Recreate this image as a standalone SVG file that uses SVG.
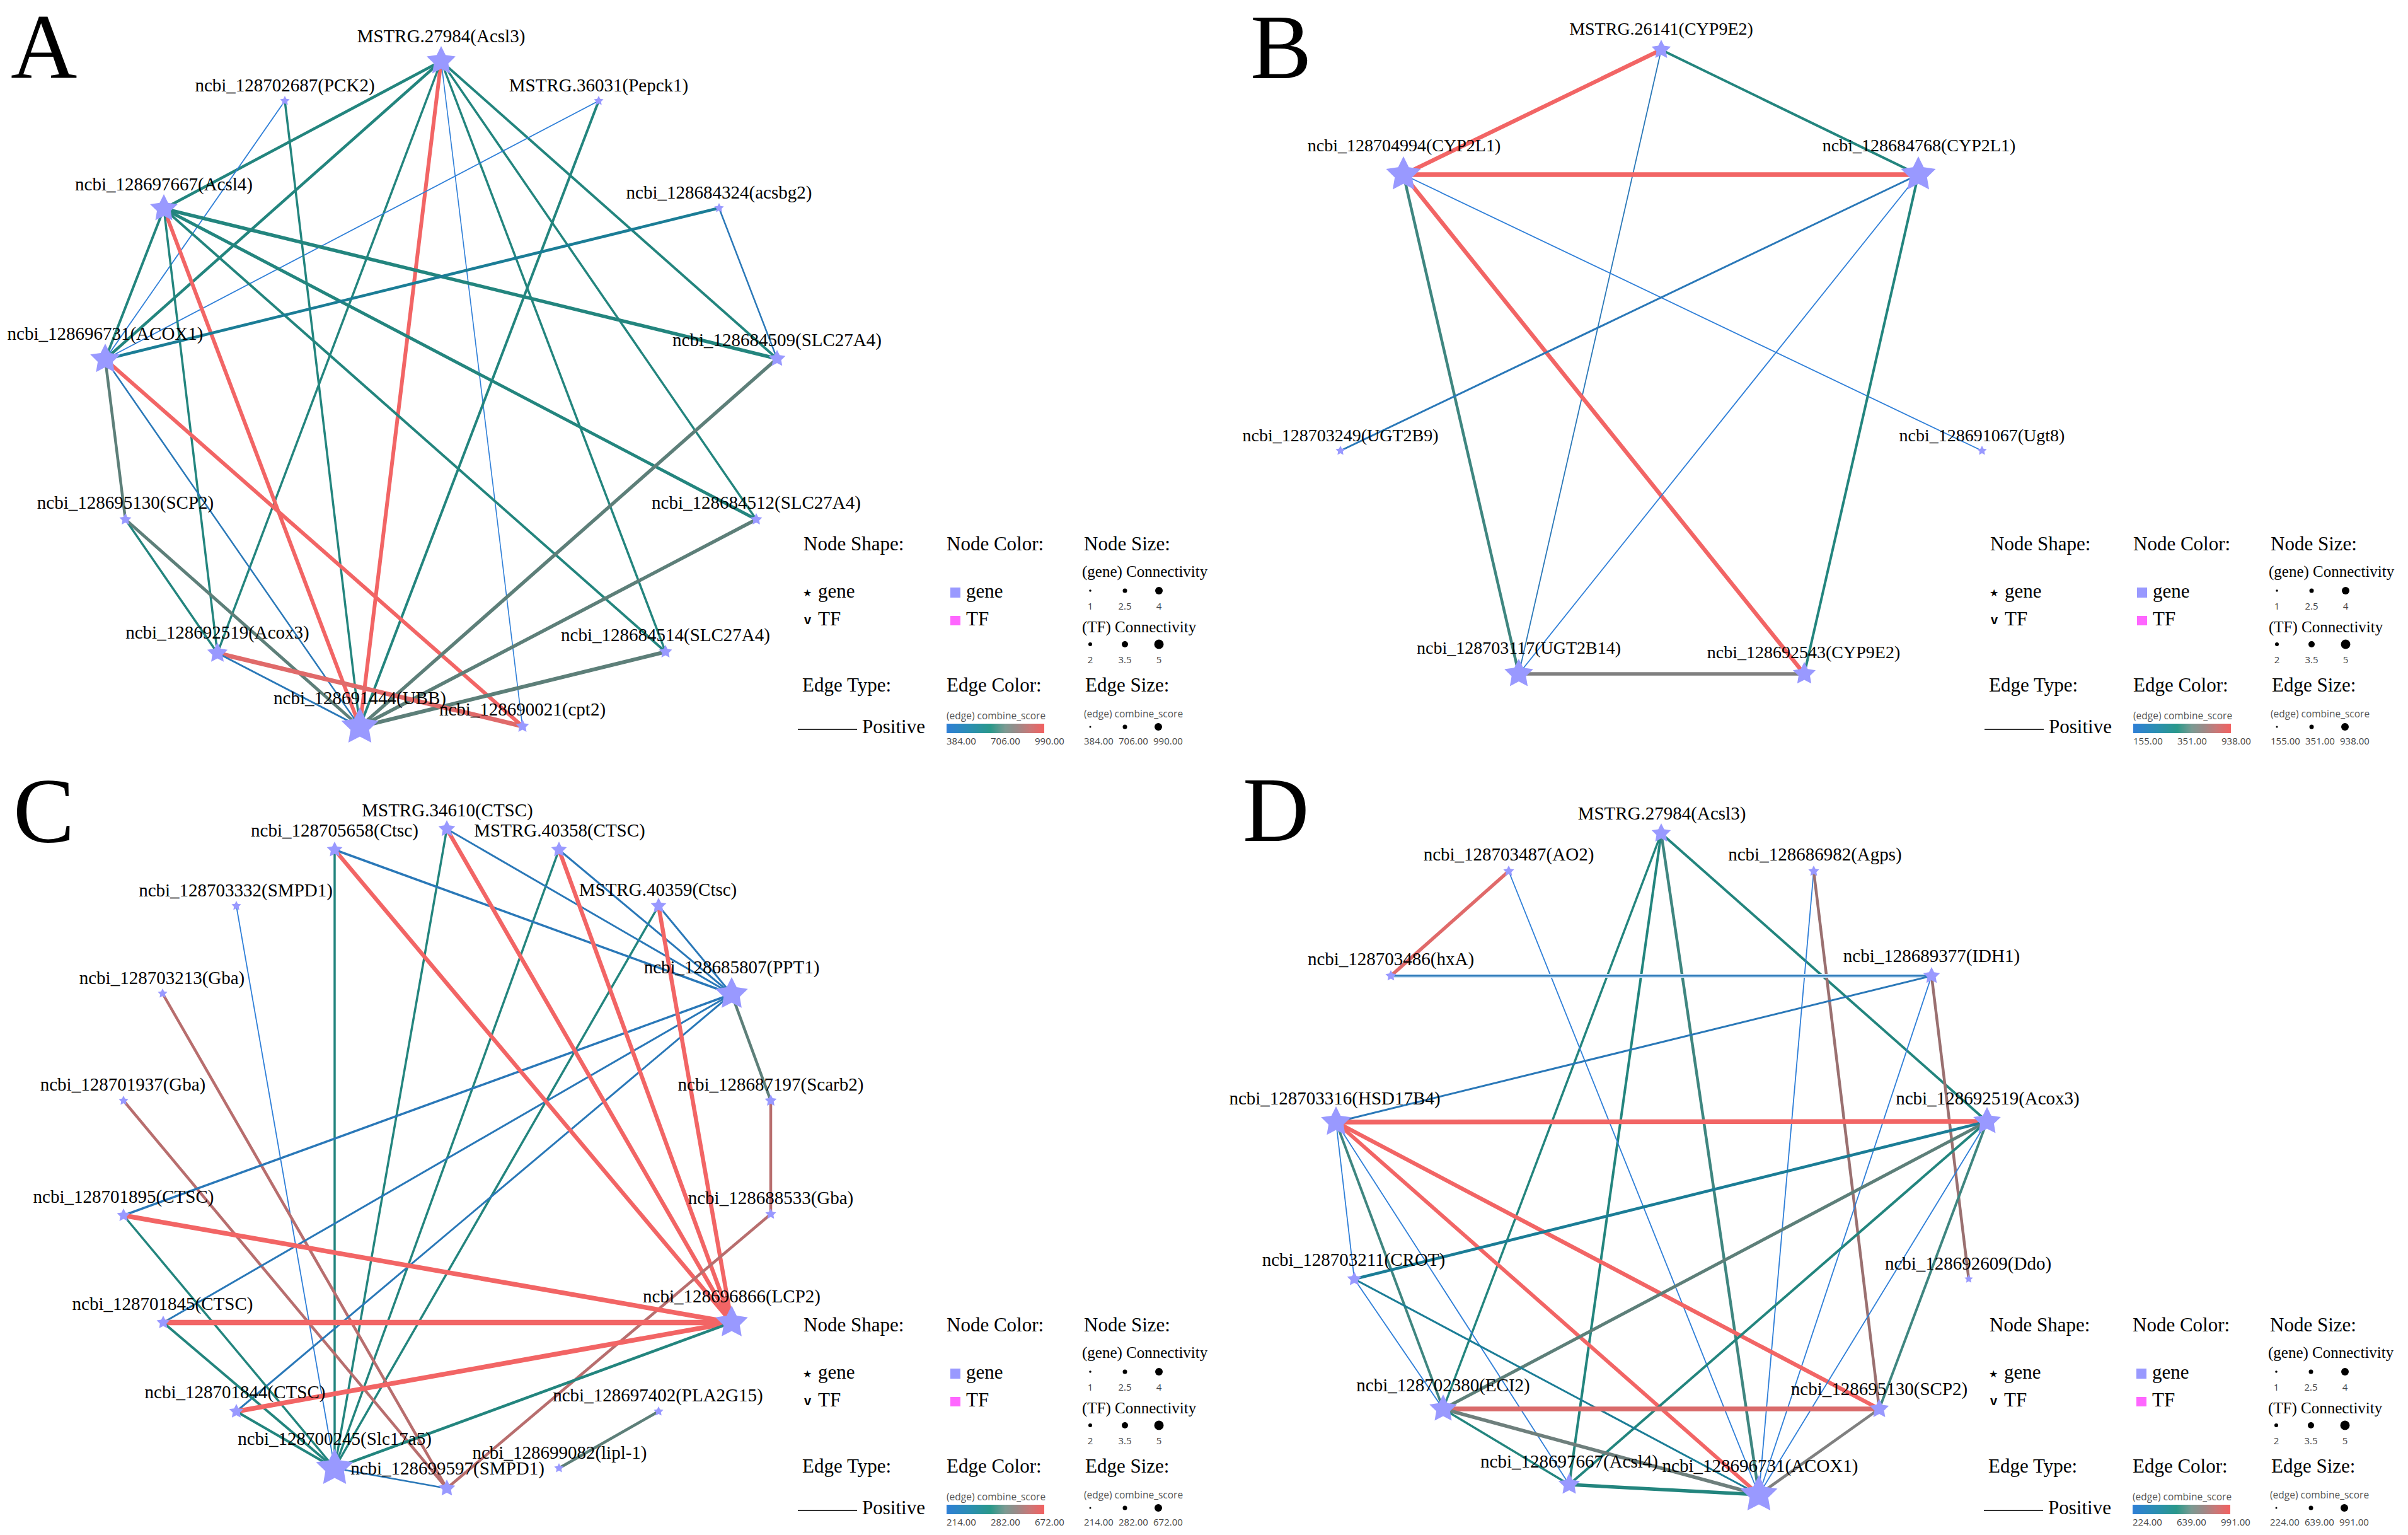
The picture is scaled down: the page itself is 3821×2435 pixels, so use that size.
<svg xmlns="http://www.w3.org/2000/svg" width="3821" height="2435" viewBox="0 0 3821 2435">
<style>
.lab{font-family:"Liberation Serif","Times New Roman",serif;font-size:29px;fill:#000;text-anchor:middle}
.labB{font-family:"Liberation Serif","Times New Roman",serif;font-size:28px;fill:#000;text-anchor:middle}
.big{font-family:"Liberation Serif","Times New Roman",serif;font-size:146px;fill:#000}
.lt{font-family:"Liberation Serif","Times New Roman",serif;font-size:31px;fill:#000}
.lm{font-family:"Liberation Serif","Times New Roman",serif;font-size:25px;fill:#000}
.ls{font-family:"DejaVu Sans",sans-serif;font-size:16px;fill:#000}
.lv{font-family:"Liberation Sans",Arial,sans-serif;font-size:20px;font-weight:bold;fill:#000}
.sn{font-family:"Open Sans","Liberation Sans",sans-serif;font-size:15px;fill:#444}
.snm{font-family:"Open Sans","Liberation Sans",sans-serif;font-size:15px;fill:#444;text-anchor:middle}
.sc{font-family:"Open Sans","Liberation Sans",sans-serif;font-size:15.5px;fill:#555}
.st{fill:#9999ff;stroke:none}
line{fill:none;stroke-linecap:butt}
.r{stroke:#f26565}
.r2{stroke:#e06a6a}
.t{stroke:#23857e}
.tb{stroke:#1b7d96}
.g{stroke:#5d7f79}
.g2{stroke:#3f8680}
.gy{stroke:#808080}
.b{stroke:#2a78b8}
.lb{stroke:#2f7fd8}
.m{stroke:#b86e6e}
.br{stroke:#9a7070}
</style>
<defs>
<path id="s" d="M0,-1 L0.294,-0.405 L0.951,-0.309 L0.476,0.155 L0.588,0.809 L0,0.5 L-0.588,0.809 L-0.476,0.155 L-0.951,-0.309 L-0.294,-0.405 Z"/>
<linearGradient id="grad" x1="0" y1="0" x2="1" y2="0">
<stop offset="0" stop-color="#2f7fd6"/>
<stop offset="0.25" stop-color="#2a8fb0"/>
<stop offset="0.45" stop-color="#2a988a"/>
<stop offset="0.6" stop-color="#7a9a92"/>
<stop offset="0.72" stop-color="#9a8a88"/>
<stop offset="0.85" stop-color="#c87878"/>
<stop offset="1" stop-color="#f26060"/>
</linearGradient>
<g id="legend">
<text class="lt" x="1275" y="873">Node Shape:</text>
<text class="lt" x="1502" y="873">Node Color:</text>
<text class="lt" x="1720" y="873">Node Size:</text>
<text class="ls" x="1274" y="946">★</text>
<text class="lt" x="1298" y="948">gene</text>
<text class="lv" x="1276" y="990">v</text>
<text class="lt" x="1298" y="992">TF</text>
<rect x="1508" y="932" width="16" height="16" fill="#9999ff"/>
<text class="lt" x="1533" y="948">gene</text>
<rect x="1508" y="977" width="16" height="15" fill="#ff66ff"/>
<text class="lt" x="1533" y="992">TF</text>
<text class="lm" x="1717" y="915">(gene) Connectivity</text>
<circle cx="1730" cy="937" r="1.8"/>
<circle cx="1785" cy="937" r="3.5"/>
<circle cx="1839" cy="937" r="6"/>
<text class="snm" x="1730" y="967">1</text>
<text class="snm" x="1785" y="967">2.5</text>
<text class="snm" x="1839" y="967">4</text>
<text class="lm" x="1717" y="1003">(TF) Connectivity</text>
<circle cx="1730" cy="1022" r="3"/>
<circle cx="1785" cy="1022" r="5"/>
<circle cx="1839" cy="1022" r="7.5"/>
<text class="snm" x="1730" y="1052">2</text>
<text class="snm" x="1785" y="1052">3.5</text>
<text class="snm" x="1839" y="1052">5</text>
<text class="lt" x="1273" y="1097">Edge Type:</text>
<text class="lt" x="1502" y="1097">Edge Color:</text>
<text class="lt" x="1722" y="1097">Edge Size:</text>
<line x1="1266" y1="1157" x2="1360" y2="1157" stroke="#333" stroke-width="2"/>
<text class="lt" x="1368" y="1163">Positive</text>
<text class="sc" x="1502" y="1141">(edge) combine_score</text>
<rect x="1502" y="1148" width="155" height="15" fill="url(#grad)"/>
<text class="sc" x="1720" y="1138">(edge) combine_score</text>
<circle cx="1730" cy="1153" r="1.5"/>
<circle cx="1785" cy="1153" r="3.5"/>
<circle cx="1838" cy="1153" r="6"/>
</g>
</defs>
<rect width="3821" height="2435" fill="#ffffff"/>

<text class="big" x="17" y="123">A</text>
<text class="big" x="1984" y="124">B</text>
<text class="big" x="21" y="1336">C</text>
<text class="big" x="1972" y="1334">D</text>

<g id="connectors">
<g id="edges-A">
<line class="t" stroke-width="4.5" x1="700" y1="97" x2="260" y2="331"/>
<line class="t" stroke-width="4.5" x1="700" y1="97" x2="167" y2="570"/>
<line class="r" stroke-width="6" x1="700" y1="97" x2="571" y2="1153"/>
<line class="lb" stroke-width="1.6" x1="700" y1="97" x2="829" y2="1152"/>
<line class="t" stroke-width="3.5" x1="700" y1="97" x2="345" y2="1036"/>
<line class="t" stroke-width="4" x1="700" y1="97" x2="1233" y2="569"/>
<line class="t" stroke-width="3.5" x1="700" y1="97" x2="1200" y2="824"/>
<line class="t" stroke-width="3.5" x1="700" y1="97" x2="1056" y2="1034"/>
<line class="lb" stroke-width="1.8" x1="950" y1="160" x2="167" y2="570"/>
<line class="t" stroke-width="4" x1="950" y1="160" x2="571" y2="1153"/>
<line class="lb" stroke-width="1.8" x1="452" y1="160" x2="167" y2="570"/>
<line class="t" stroke-width="3.5" x1="452" y1="160" x2="571" y2="1153"/>
<line class="t" stroke-width="5.5" x1="260" y1="331" x2="1233" y2="569"/>
<line class="t" stroke-width="5" x1="260" y1="331" x2="1200" y2="824"/>
<line class="t" stroke-width="4" x1="260" y1="331" x2="1056" y2="1034"/>
<line class="r" stroke-width="6" x1="260" y1="331" x2="571" y2="1153"/>
<line class="t" stroke-width="3.5" x1="260" y1="331" x2="345" y2="1036"/>
<line class="t" stroke-width="4" x1="260" y1="331" x2="167" y2="570"/>
<line class="tb" stroke-width="4.5" x1="167" y1="570" x2="1141" y2="330"/>
<line class="g" stroke-width="4.5" x1="167" y1="570" x2="199" y2="824"/>
<line class="b" stroke-width="2.5" x1="167" y1="570" x2="571" y2="1153"/>
<line class="r" stroke-width="6" x1="167" y1="570" x2="829" y2="1152"/>
<line class="b" stroke-width="2.5" x1="1141" y1="330" x2="1233" y2="569"/>
<line class="g" stroke-width="5.5" x1="1233" y1="569" x2="571" y2="1153"/>
<line class="g" stroke-width="5.5" x1="1200" y1="824" x2="571" y2="1153"/>
<line class="g" stroke-width="6" x1="1056" y1="1034" x2="571" y2="1153"/>
<line class="t" stroke-width="3.5" x1="199" y1="824" x2="345" y2="1036"/>
<line class="g" stroke-width="5" x1="199" y1="824" x2="571" y2="1153"/>
<line class="r2" stroke-width="7" x1="345" y1="1036" x2="829" y2="1152"/>
<line class="b" stroke-width="3" x1="345" y1="1036" x2="571" y2="1153"/>
</g>
<g id="edges-B">
<line class="r" stroke-width="6.5" x1="2636" y1="79" x2="2227" y2="277"/>
<line class="t" stroke-width="4" x1="2636" y1="79" x2="3044" y2="277"/>
<line class="b" stroke-width="1.8" x1="2636" y1="79" x2="2410" y2="1069"/>
<line class="r" stroke-width="7.5" x1="2227" y1="277" x2="3044" y2="277"/>
<line class="g2" stroke-width="4.5" x1="2227" y1="277" x2="2410" y2="1069"/>
<line class="r" stroke-width="6.5" x1="2227" y1="277" x2="2863" y2="1069"/>
<line class="lb" stroke-width="1.8" x1="2227" y1="277" x2="3145" y2="715"/>
<line class="b" stroke-width="3" x1="3044" y1="277" x2="2127" y2="715"/>
<line class="lb" stroke-width="1.8" x1="3044" y1="277" x2="2410" y2="1069"/>
<line class="t" stroke-width="4" x1="3044" y1="277" x2="2863" y2="1069"/>
<line class="gy" stroke-width="5.5" x1="2410" y1="1069" x2="2863" y2="1069"/>
</g>
<g id="edges-C">
<line class="t" stroke-width="3.5" x1="709" y1="1315" x2="531" y2="2329"/>
<line class="t" stroke-width="3.5" x1="531" y1="1348" x2="531" y2="2329"/>
<line class="t" stroke-width="3.5" x1="887" y1="1348" x2="531" y2="2329"/>
<line class="t" stroke-width="3.5" x1="1045" y1="1437" x2="531" y2="2329"/>
<line class="lb" stroke-width="1.8" x1="375" y1="1437" x2="531" y2="2329"/>
<line class="m" stroke-width="4.5" x1="258" y1="1576" x2="709" y2="2361"/>
<line class="m" stroke-width="4.5" x1="196" y1="1746" x2="709" y2="2361"/>
<line class="b" stroke-width="3" x1="709" y1="1315" x2="1161" y2="1577"/>
<line class="b" stroke-width="3.5" x1="531" y1="1348" x2="1161" y2="1577"/>
<line class="b" stroke-width="3" x1="887" y1="1348" x2="1161" y2="1577"/>
<line class="b" stroke-width="3" x1="1045" y1="1437" x2="1161" y2="1577"/>
<line class="b" stroke-width="3.5" x1="1161" y1="1577" x2="196" y2="1928"/>
<line class="b" stroke-width="3" x1="1161" y1="1577" x2="259" y2="2098"/>
<line class="b" stroke-width="3" x1="1161" y1="1577" x2="375" y2="2239"/>
<line class="r" stroke-width="6.5" x1="709" y1="1315" x2="1161" y2="2098"/>
<line class="r" stroke-width="6.5" x1="531" y1="1348" x2="1161" y2="2098"/>
<line class="r" stroke-width="6.5" x1="887" y1="1348" x2="1161" y2="2098"/>
<line class="r" stroke-width="6.5" x1="1045" y1="1437" x2="1161" y2="2098"/>
<line class="g" stroke-width="4.5" x1="1161" y1="1577" x2="1223" y2="1746"/>
<line class="m" stroke-width="4.5" x1="1223" y1="1746" x2="1223" y2="1926"/>
<line class="m" stroke-width="4.5" x1="1223" y1="1926" x2="709" y2="2361"/>
<line class="r" stroke-width="7.5" x1="196" y1="1928" x2="1161" y2="2098"/>
<line class="t" stroke-width="3.5" x1="196" y1="1928" x2="531" y2="2329"/>
<line class="r" stroke-width="8.5" x1="259" y1="2098" x2="1161" y2="2098"/>
<line class="t" stroke-width="4" x1="259" y1="2098" x2="531" y2="2329"/>
<line class="r" stroke-width="7.5" x1="375" y1="2239" x2="1161" y2="2098"/>
<line class="t" stroke-width="4" x1="375" y1="2239" x2="531" y2="2329"/>
<line class="t" stroke-width="4.5" x1="1161" y1="2098" x2="531" y2="2329"/>
<line class="b" stroke-width="2.5" x1="531" y1="2329" x2="709" y2="2361"/>
<line class="g" stroke-width="4.5" x1="1045" y1="2239" x2="887" y2="2329"/>
</g>
<g id="edges-D">
<line class="t" stroke-width="3.5" x1="2636" y1="1322" x2="2290" y2="2235"/>
<line class="t" stroke-width="4" x1="2636" y1="1322" x2="2490" y2="2355"/>
<line class="g2" stroke-width="4.5" x1="2636" y1="1322" x2="2791" y2="2371"/>
<line class="t" stroke-width="4" x1="2636" y1="1322" x2="3153" y2="1779"/>
<line class="r2" stroke-width="5.5" x1="2394" y1="1382" x2="2207" y2="1548"/>
<line class="lb" stroke-width="1.8" x1="2394" y1="1382" x2="2791" y2="2371"/>
<line class="lb" stroke-width="1.8" x1="2878" y1="1382" x2="2791" y2="2371"/>
<line class="br" stroke-width="4.5" x1="2878" y1="1382" x2="2982" y2="2235"/>
<line stroke="#cfe3f5" stroke-width="6" x1="2207" y1="1548" x2="3065" y2="1548"/>
<line class="b" stroke-width="2.5" x1="2207" y1="1548" x2="3065" y2="1548"/>
<line class="b" stroke-width="3" x1="3065" y1="1548" x2="2120" y2="1780"/>
<line class="lb" stroke-width="1.8" x1="3065" y1="1548" x2="2791" y2="2371"/>
<line class="br" stroke-width="4.5" x1="3065" y1="1548" x2="3124" y2="2029"/>
<line class="r" stroke-width="7.5" x1="2120" y1="1780" x2="3153" y2="1779"/>
<line class="r" stroke-width="6.5" x1="2120" y1="1780" x2="2982" y2="2235"/>
<line class="r" stroke-width="6" x1="2120" y1="1780" x2="2791" y2="2371"/>
<line class="lb" stroke-width="1.8" x1="2120" y1="1780" x2="2149" y2="2029"/>
<line class="g2" stroke-width="4" x1="2120" y1="1780" x2="2290" y2="2235"/>
<line class="lb" stroke-width="1.8" x1="2120" y1="1780" x2="2490" y2="2355"/>
<line class="tb" stroke-width="4.5" x1="3153" y1="1779" x2="2149" y2="2029"/>
<line class="g" stroke-width="5" x1="3153" y1="1779" x2="2290" y2="2235"/>
<line class="t" stroke-width="4" x1="3153" y1="1779" x2="2490" y2="2355"/>
<line class="lb" stroke-width="1.8" x1="3153" y1="1779" x2="2791" y2="2371"/>
<line class="g2" stroke-width="4" x1="3153" y1="1779" x2="2982" y2="2235"/>
<line class="lb" stroke-width="1.8" x1="2149" y1="2029" x2="2290" y2="2235"/>
<line class="tb" stroke-width="3" x1="2149" y1="2029" x2="2791" y2="2371"/>
<line stroke="#d96b6b" stroke-width="7.5" x1="2290" y1="2235" x2="2982" y2="2235"/>
<line stroke="#6e7f7c" stroke-width="5.5" x1="2290" y1="2235" x2="2791" y2="2371"/>
<line class="t" stroke-width="3.5" x1="2290" y1="2235" x2="2490" y2="2355"/>
<line class="t" stroke-width="5.5" x1="2490" y1="2355" x2="2791" y2="2371"/>
<line class="gy" stroke-width="4.5" x1="2982" y1="2235" x2="2791" y2="2371"/>
</g>
</g>

<g id="nodes-A">
<g id="A-Acsl3"><use href="#s" class="st" transform="translate(700 97) scale(24)"/><text class="lab" x="700" y="67">MSTRG.27984(Acsl3)</text></g>
<g id="A-PCK2"><use href="#s" class="st" transform="translate(452 160) scale(8)"/><text class="lab" x="452" y="145">ncbi_128702687(PCK2)</text></g>
<g id="A-Pepck1"><use href="#s" class="st" transform="translate(950 160) scale(8)"/><text class="lab" x="950" y="145">MSTRG.36031(Pepck1)</text></g>
<g id="A-Acsl4"><use href="#s" class="st" transform="translate(260 331) scale(23)"/><text class="lab" x="260" y="302">ncbi_128697667(Acsl4)</text></g>
<g id="A-acsbg2"><use href="#s" class="st" transform="translate(1141 330) scale(8)"/><text class="lab" x="1141" y="315">ncbi_128684324(acsbg2)</text></g>
<g id="A-ACOX1"><use href="#s" class="st" transform="translate(167 570) scale(25)"/><text class="lab" x="167" y="539">ncbi_128696731(ACOX1)</text></g>
<g id="A-SLC27A4-509"><use href="#s" class="st" transform="translate(1233 569) scale(14)"/><text class="lab" x="1233" y="549">ncbi_128684509(SLC27A4)</text></g>
<g id="A-SCP2"><use href="#s" class="st" transform="translate(199 824) scale(10)"/><text class="lab" x="199" y="807">ncbi_128695130(SCP2)</text></g>
<g id="A-SLC27A4-512"><use href="#s" class="st" transform="translate(1200 824) scale(10)"/><text class="lab" x="1200" y="807">ncbi_128684512(SLC27A4)</text></g>
<g id="A-Acox3"><use href="#s" class="st" transform="translate(345 1036) scale(17)"/><text class="lab" x="345" y="1013">ncbi_128692519(Acox3)</text></g>
<g id="A-SLC27A4-514"><use href="#s" class="st" transform="translate(1056 1034) scale(11)"/><text class="lab" x="1056" y="1017">ncbi_128684514(SLC27A4)</text></g>
<g id="A-UBB"><use href="#s" class="st" transform="translate(571 1153) scale(31)"/><text class="lab" x="571" y="1117">ncbi_128691444(UBB)</text></g>
<g id="A-cpt2"><use href="#s" class="st" transform="translate(829 1152) scale(11)"/><text class="lab" x="829" y="1135">ncbi_128690021(cpt2)</text></g>
</g>

<g id="nodes-B">
<g id="B-26141"><use href="#s" class="st" transform="translate(2636 79) scale(16)"/><text class="labB" x="2636" y="55">MSTRG.26141(CYP9E2)</text></g>
<g id="B-704994"><use href="#s" class="st" transform="translate(2227 277) scale(29)"/><text class="labB" x="2228" y="240">ncbi_128704994(CYP2L1)</text></g>
<g id="B-684768"><use href="#s" class="st" transform="translate(3044 277) scale(29)"/><text class="labB" x="3045" y="240">ncbi_128684768(CYP2L1)</text></g>
<g id="B-UGT2B9"><use href="#s" class="st" transform="translate(2127 715) scale(8)"/><text class="labB" x="2127" y="700">ncbi_128703249(UGT2B9)</text></g>
<g id="B-Ugt8"><use href="#s" class="st" transform="translate(3145 715) scale(8)"/><text class="labB" x="3145" y="700">ncbi_128691067(Ugt8)</text></g>
<g id="B-UGT2B14"><use href="#s" class="st" transform="translate(2410 1069) scale(24)"/><text class="labB" x="2410" y="1037">ncbi_128703117(UGT2B14)</text></g>
<g id="B-692543"><use href="#s" class="st" transform="translate(2863 1069) scale(19)"/><text class="labB" x="2862" y="1044">ncbi_128692543(CYP9E2)</text></g>
</g>

<g id="nodes-C">
<g id="C-34610"><use href="#s" class="st" transform="translate(709 1315) scale(14)"/><text class="lab" x="710" y="1295">MSTRG.34610(CTSC)</text></g>
<g id="C-705658"><use href="#s" class="st" transform="translate(531 1348) scale(13)"/><text class="lab" x="531" y="1327">ncbi_128705658(Ctsc)</text></g>
<g id="C-40358"><use href="#s" class="st" transform="translate(887 1348) scale(13)"/><text class="lab" x="888" y="1327">MSTRG.40358(CTSC)</text></g>
<g id="C-703332"><use href="#s" class="st" transform="translate(375 1437) scale(8)"/><text class="lab" x="374" y="1422">ncbi_128703332(SMPD1)</text></g>
<g id="C-40359"><use href="#s" class="st" transform="translate(1045 1437) scale(13)"/><text class="lab" x="1044" y="1421">MSTRG.40359(Ctsc)</text></g>
<g id="C-PPT1"><use href="#s" class="st" transform="translate(1161 1577) scale(27)"/><text class="lab" x="1161" y="1544">ncbi_128685807(PPT1)</text></g>
<g id="C-703213"><use href="#s" class="st" transform="translate(258 1576) scale(8)"/><text class="lab" x="257" y="1561">ncbi_128703213(Gba)</text></g>
<g id="C-Scarb2"><use href="#s" class="st" transform="translate(1223 1746) scale(10)"/><text class="lab" x="1223" y="1730">ncbi_128687197(Scarb2)</text></g>
<g id="C-701937"><use href="#s" class="st" transform="translate(196 1746) scale(8)"/><text class="lab" x="195" y="1730">ncbi_128701937(Gba)</text></g>
<g id="C-701895"><use href="#s" class="st" transform="translate(196 1928) scale(11)"/><text class="lab" x="196" y="1908">ncbi_128701895(CTSC)</text></g>
<g id="C-688533"><use href="#s" class="st" transform="translate(1223 1926) scale(9)"/><text class="lab" x="1223" y="1910">ncbi_128688533(Gba)</text></g>
<g id="C-701845"><use href="#s" class="st" transform="translate(259 2098) scale(11)"/><text class="lab" x="258" y="2078">ncbi_128701845(CTSC)</text></g>
<g id="C-LCP2"><use href="#s" class="st" transform="translate(1161 2098) scale(27)"/><text class="lab" x="1161" y="2066">ncbi_128696866(LCP2)</text></g>
<g id="C-701844"><use href="#s" class="st" transform="translate(375 2239) scale(12)"/><text class="lab" x="373" y="2218">ncbi_128701844(CTSC)</text></g>
<g id="C-PLA2G15"><use href="#s" class="st" transform="translate(1045 2239) scale(8)"/><text class="lab" x="1044" y="2223">ncbi_128697402(PLA2G15)</text></g>
<g id="C-Slc17a5"><use href="#s" class="st" transform="translate(531 2329) scale(31)"/><text class="lab" x="531" y="2292">ncbi_128700245(Slc17a5)</text></g>
<g id="C-lipl1"><use href="#s" class="st" transform="translate(887 2329) scale(8)"/><text class="lab" x="888" y="2314">ncbi_128699082(lipl-1)</text></g>
<g id="C-699597"><use href="#s" class="st" transform="translate(709 2361) scale(14)"/><text class="lab" x="710" y="2339">ncbi_128699597(SMPD1)</text></g>
</g>

<g id="nodes-D">
<g id="D-Acsl3"><use href="#s" class="st" transform="translate(2636 1322) scale(16)"/><text class="lab" x="2637" y="1300">MSTRG.27984(Acsl3)</text></g>
<g id="D-AO2"><use href="#s" class="st" transform="translate(2394 1382) scale(9)"/><text class="lab" x="2394" y="1365">ncbi_128703487(AO2)</text></g>
<g id="D-Agps"><use href="#s" class="st" transform="translate(2878 1382) scale(9)"/><text class="lab" x="2880" y="1365">ncbi_128686982(Agps)</text></g>
<g id="D-hxA"><use href="#s" class="st" transform="translate(2207 1548) scale(9)"/><text class="lab" x="2207" y="1531">ncbi_128703486(hxA)</text></g>
<g id="D-IDH1"><use href="#s" class="st" transform="translate(3065 1548) scale(14)"/><text class="lab" x="3065" y="1526">ncbi_128689377(IDH1)</text></g>
<g id="D-HSD17B4"><use href="#s" class="st" transform="translate(2120 1780) scale(25)"/><text class="lab" x="2118" y="1752">ncbi_128703316(HSD17B4)</text></g>
<g id="D-Acox3"><use href="#s" class="st" transform="translate(3153 1779) scale(23)"/><text class="lab" x="3154" y="1752">ncbi_128692519(Acox3)</text></g>
<g id="D-CROT"><use href="#s" class="st" transform="translate(2149 2029) scale(12)"/><text class="lab" x="2148" y="2008">ncbi_128703211(CROT)</text></g>
<g id="D-Ddo"><use href="#s" class="st" transform="translate(3124 2029) scale(7)"/><text class="lab" x="3123" y="2014">ncbi_128692609(Ddo)</text></g>
<g id="D-ECI2"><use href="#s" class="st" transform="translate(2290 2235) scale(23)"/><text class="lab" x="2290" y="2207">ncbi_128702380(ECI2)</text></g>
<g id="D-SCP2"><use href="#s" class="st" transform="translate(2982 2235) scale(16)"/><text class="lab" x="2982" y="2213">ncbi_128695130(SCP2)</text></g>
<g id="D-Acsl4"><use href="#s" class="st" transform="translate(2490 2355) scale(18)"/><text class="lab" x="2490" y="2328">ncbi_128697667(Acsl4)</text></g>
<g id="D-ACOX1"><use href="#s" class="st" transform="translate(2791 2371) scale(31)"/><text class="lab" x="2793" y="2335">ncbi_128696731(ACOX1)</text></g>
</g>

<g id="legend-A">
<use href="#legend"/>
<text class="sn" x="1502" y="1181">384.00</text><text class="sn" x="1572" y="1181">706.00</text><text class="sn" x="1642" y="1181">990.00</text>
<text class="sn" x="1720" y="1181">384.00</text><text class="sn" x="1775" y="1181">706.00</text><text class="sn" x="1830" y="1181">990.00</text>
</g>
<g id="legend-B" transform="translate(1883 0)">
<use href="#legend"/>
<text class="sn" x="1502" y="1181">155.00</text><text class="sn" x="1572" y="1181">351.00</text><text class="sn" x="1642" y="1181">938.00</text>
<text class="sn" x="1720" y="1181">155.00</text><text class="sn" x="1775" y="1181">351.00</text><text class="sn" x="1830" y="1181">938.00</text>
</g>
<g id="legend-C" transform="translate(0 1239)">
<use href="#legend"/>
<text class="sn" x="1502" y="1181">214.00</text><text class="sn" x="1572" y="1181">282.00</text><text class="sn" x="1642" y="1181">672.00</text>
<text class="sn" x="1720" y="1181">214.00</text><text class="sn" x="1775" y="1181">282.00</text><text class="sn" x="1830" y="1181">672.00</text>
</g>
<g id="legend-D" transform="translate(1882 1239)">
<use href="#legend"/>
<text class="sn" x="1502" y="1181">224.00</text><text class="sn" x="1572" y="1181">639.00</text><text class="sn" x="1642" y="1181">991.00</text>
<text class="sn" x="1720" y="1181">224.00</text><text class="sn" x="1775" y="1181">639.00</text><text class="sn" x="1830" y="1181">991.00</text>
</g>
</svg>
